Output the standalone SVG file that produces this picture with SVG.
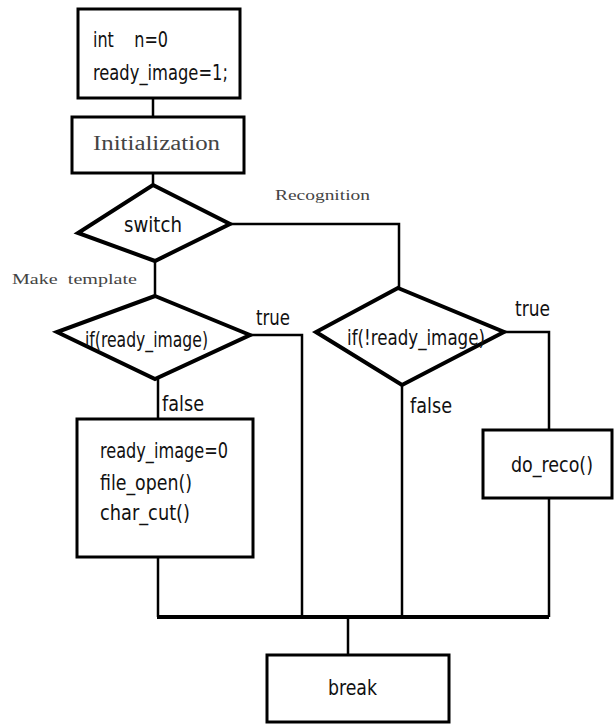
<svg xmlns="http://www.w3.org/2000/svg" width="614" height="724" viewBox="0 0 614 724">
<style>
.box{fill:#fff;stroke:#000;stroke-width:3}
.dia{fill:#fff;stroke:#000;stroke-width:4;stroke-linejoin:miter}
.ln{fill:none;stroke:#000;stroke-width:2.5}
.bar{fill:none;stroke:#000;stroke-width:4}
.t{font-family:"DejaVu Sans Condensed","Liberation Sans Narrow","Liberation Sans",sans-serif;font-size:22px;fill:#111;white-space:pre}
.s{font-family:"Liberation Serif",serif;fill:#444;white-space:pre}
</style>
<rect width="614" height="724" fill="#fff"/>
<g id="connectors">
<path class="ln" d="M153 98V117"/>
<path class="ln" d="M153 173V185"/>
<path class="ln" d="M230 224H399V288"/>
<path class="ln" d="M155 261V296"/>
<path class="ln" d="M250 335H302V617"/>
<path class="ln" d="M158 378V419"/>
<path class="ln" d="M158 557V617"/>
<path class="ln" d="M504 332H549V430"/>
<path class="ln" d="M402 385V617"/>
<path class="ln" d="M549 498V617"/>
<path class="bar" d="M157 617H549"/>
<path class="ln" d="M348 617V655"/>
<text class="s" x="275" y="200" font-size="15" textLength="95" lengthAdjust="spacingAndGlyphs">Recognition</text>
<text class="s" x="12" y="284" font-size="15" textLength="125" lengthAdjust="spacingAndGlyphs">Make  template</text>
<text class="t" x="256" y="325" textLength="34" lengthAdjust="spacingAndGlyphs">true</text>
<text class="t" x="515" y="316" textLength="35" lengthAdjust="spacingAndGlyphs">true</text>
<text class="t" x="162" y="411" textLength="42" lengthAdjust="spacingAndGlyphs">false</text>
<text class="t" x="410" y="413" textLength="42" lengthAdjust="spacingAndGlyphs">false</text>
</g>
<g id="init-vars">
<rect class="box" x="78" y="9" width="162" height="89"/>
<text class="t" x="93" y="47" textLength="75" lengthAdjust="spacingAndGlyphs">int    n=0</text>
<text class="t" x="93" y="80" textLength="135" lengthAdjust="spacingAndGlyphs">ready_image=1;</text>
</g>
<g id="initialization">
<rect class="box" x="72" y="117" width="172" height="56"/>
<text class="s" x="93" y="150" font-size="20" fill="#333" textLength="127" lengthAdjust="spacingAndGlyphs">Initialization</text>
</g>
<g id="switch">
<polygon class="dia" points="153,185 230,224 155,261 78,233"/>
<text class="t" x="124" y="232" font-size="23" textLength="58" lengthAdjust="spacingAndGlyphs">switch</text>
</g>
<g id="if-ready">
<polygon class="dia" points="155,296 250,335 155,379 57,332"/>
<text class="t" x="85" y="347" textLength="123" lengthAdjust="spacingAndGlyphs">if(ready_image)</text>
</g>
<g id="if-not-ready">
<polygon class="dia" points="398,288 504,332 402,385 316,332"/>
<text class="t" x="347" y="345" textLength="138" lengthAdjust="spacingAndGlyphs">if(!ready_image)</text>
</g>
<g id="template-box">
<rect class="box" x="77" y="419" width="176" height="138"/>
<text class="t" x="100" y="458" textLength="128" lengthAdjust="spacingAndGlyphs">ready_image=0</text>
<text class="t" x="100" y="490" textLength="92" lengthAdjust="spacingAndGlyphs">file_open()</text>
<text class="t" x="100" y="520" textLength="90" lengthAdjust="spacingAndGlyphs">char_cut()</text>
</g>
<g id="do-reco">
<rect class="box" x="483" y="430" width="129" height="68"/>
<text class="t" x="511" y="472" textLength="82" lengthAdjust="spacingAndGlyphs">do_reco()</text>
</g>
<g id="break">
<rect class="box" x="267" y="655" width="182" height="67"/>
<text class="t" x="328" y="695" textLength="49" lengthAdjust="spacingAndGlyphs">break</text>
</g>
</svg>
